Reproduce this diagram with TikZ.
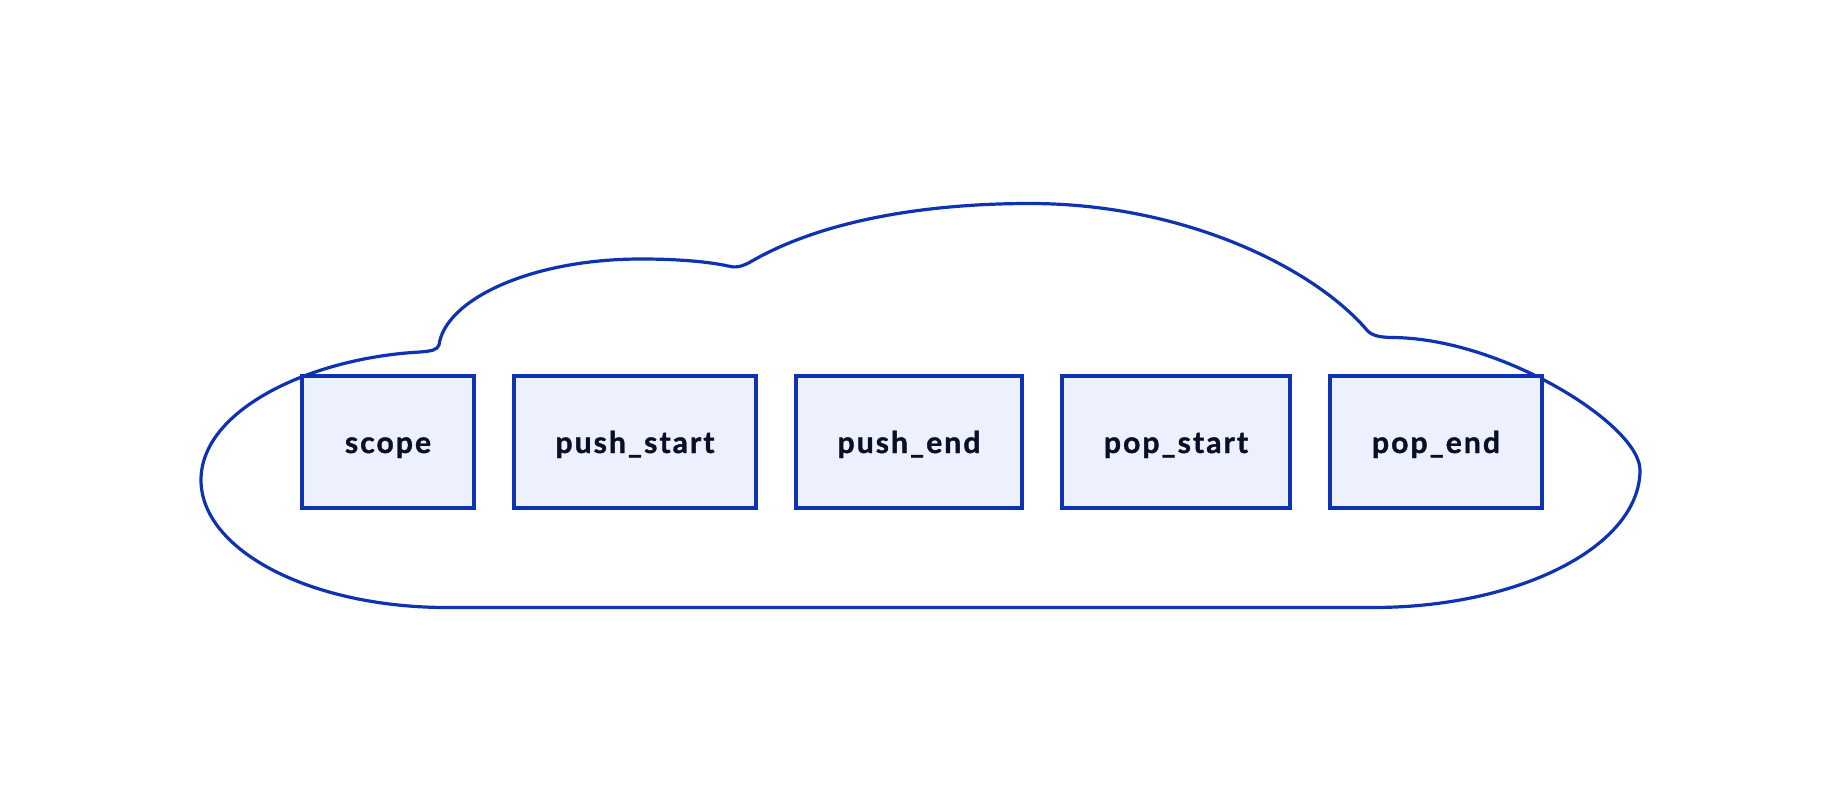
\documentclass[tikz,border=0pt]{standalone}
\usepackage{fontspec}
\setmainfont{Lato}
\definecolor{d2stroke}{HTML}{0D32B2}
\definecolor{d2fill}{HTML}{EDF0FD}
\definecolor{d2text}{HTML}{0A0F25}
\tikzset{
  box/.style={draw=d2stroke, fill=d2fill, line width=3.2pt, minimum height=132pt,
    inner sep=0pt, text=d2text, font=\fontsize{30}{32}\selectfont\bfseries\addfontfeature{LetterSpace=7,FakeBold=1.3},
    text height=22pt, text depth=0pt},
  cloudline/.style={draw=d2stroke, line width=3.2pt, line join=round}
}
\begin{document}
\begin{tikzpicture}[x=1pt,y=-1pt]
\useasboundingbox (0,0) rectangle (1844,810);
% cloud
\draw[cloudline, fill=white]
  (447,607.5) -- (1373,607.5)
  .. controls (1520,607.5) and (1640,546) .. (1640,470)
  .. controls (1640,425) and (1500,337) .. (1390,337.5)
  .. controls (1380,337) and (1371,336) .. (1366,329)
  .. controls (1310,265) and (1180,203.5) .. (1030,203.5)
  .. controls (920,203.5) and (820,222) .. (752,261)
  .. controls (742,267) and (735,268) .. (728,266)
  .. controls (710,262) and (680,259) .. (641,259)
  .. controls (530,259) and (445,300) .. (439,345)
  .. controls (437,350) and (432,351) .. (420,352)
  .. controls (310,358) and (201,410) .. (201,480)
  .. controls (201,550) and (310,607.5) .. (447,607.5) -- cycle;
% boxes
\node[box, minimum width=172pt] (scope) at (388,442) {scope};
\node[box, minimum width=242pt] (pushstart) at (635,442) {push\_start};
\node[box, minimum width=226pt] (pushend) at (909,442) {push\_end};
\node[box, minimum width=228pt] (popstart) at (1176,442) {pop\_start};
\node[box, minimum width=212pt] (popend) at (1436,442) {pop\_end};
\end{tikzpicture}
\end{document}
